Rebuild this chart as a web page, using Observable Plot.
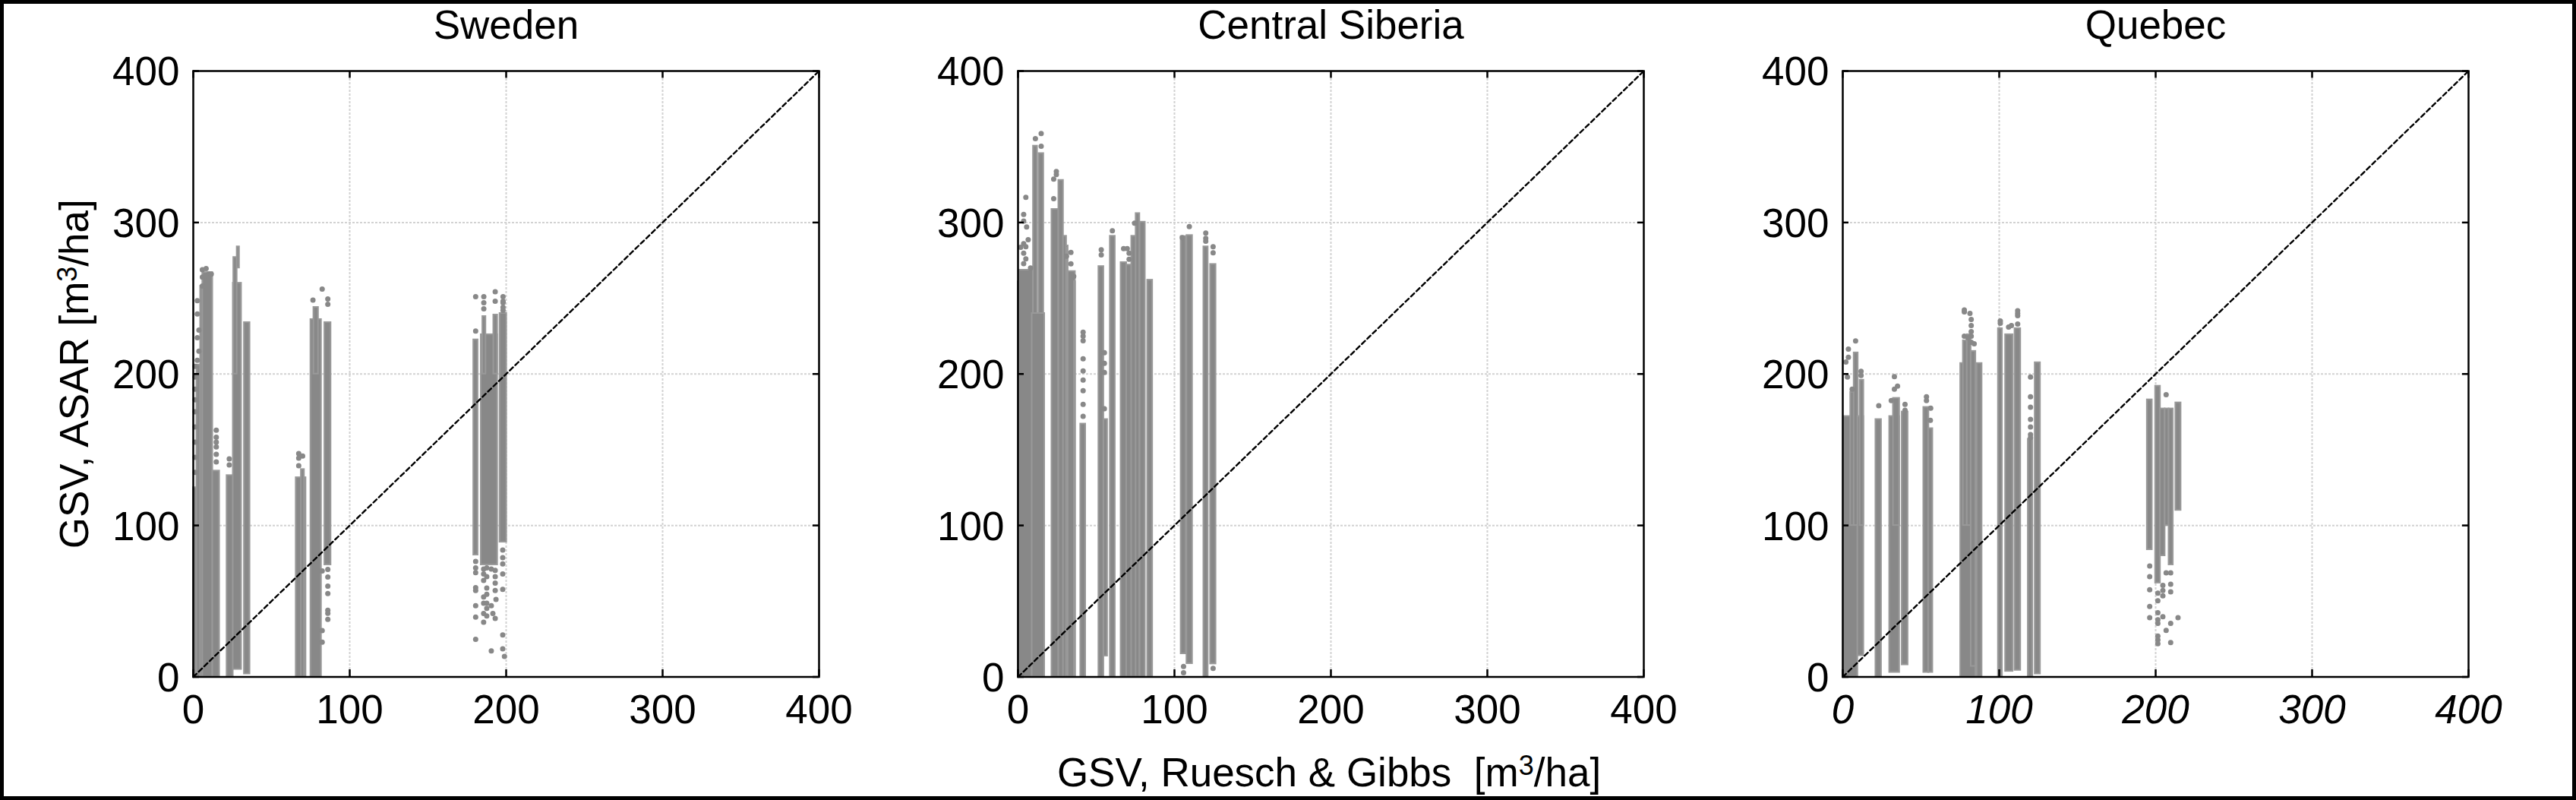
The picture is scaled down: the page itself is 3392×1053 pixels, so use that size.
<!DOCTYPE html>
<html><head><meta charset="utf-8">
<script src="https://cdn.jsdelivr.net/npm/d3@7"></script>
<script src="https://cdn.jsdelivr.net/npm/@observablehq/plot@0.6"></script>
<style>
html,body{margin:0;padding:0;background:#fff}
svg{display:block;outline:5px solid #000;outline-offset:-5px;font-family:"Liberation Sans",Arial,sans-serif}
</style></head><body><div id="chart"></div>
<script>
const panels = ["Sweden", "Central Siberia", "Quebec"];
const tickValues = [0, 100, 200, 300, 400];
const gridValues = [100, 200, 300];
const diagonal = [0, 400];
const xTitle = "GSV, Ruesch & Gibbs  [m3/ha]";
const yTitle = "GSV, ASAR [m3/ha]";

// Sweden: vertical clusters of points (x1, x2, low, high)
const swedenX1 = [0, 2.2, 4.6, 6, 12.4, 21.5, 25.5, 25.8, 28, 32.6, 65.7, 69, 75.1, 77, 84, 184, 179.2, 185, 192, 196];
const swedenX2 = [2.2, 5, 6, 12.4, 16.8, 25.5, 30.8, 28, 29.5, 36.2, 72, 71, 81.9, 80, 88, 194.5, 182, 187, 194.5, 200.3];
const swedenLow = [0, 0, 0, 0, 0, 0, 5, 200, 270, 2, 0, 0, 0, 200, 74, 74, 80.5, 200, 200, 89];
const swedenHigh = [125, 206, 258, 267, 136, 133, 260, 277, 284, 234, 131.6, 137, 236, 244, 234, 226, 222.6, 238, 239, 240];
const swedenOutX = [1.2,1.2,1.2,1.2,1.2,1.2,1.2,1.2,1.2,2.6,2.6,3.6,2.6,3.6,2.6,5.8,5.8,5.8,8.2,8.2,10,11.5,14.7,14.7,14.7,14.7,14.7,14.7,23,23,67.4,67.4,69.9,67.4,86,86,82.4,76.5,86,86,86,86,86,86,82.4,82.4,86,82.4,180.5,180.5,180.5,180.5,180.5,180.5,180.5,180.5,180.5,180.5,185.6,185.6,185.6,187.6,187.6,190.5,193,193,193,193,187.6,187.6,185.6,185.6,187.6,193.5,190.5,187.6,185.6,187.6,185.6,191.5,193,197.8,197.8,197.8,198.9,190.5,197.8,197.8,197.8,197.8,193,193,185.7,185.7,185.7,198,198,198,198,198];
const swedenOutY = [135,145,155,165,175,183,190,198,205,248.4,239.6,229,224,215,209,268.9,264,258,269.6,265,266,266,162.9,158.2,155,151.9,147,142,144,140,147.5,144.4,145.8,139.4,249.5,246,256,248.8,44,42,55,66,71,60,30.6,22.9,38,70,251,228.4,76.3,68.8,58.9,57,47,39.5,24.8,72,71.2,67.9,63.7,72,66.2,71.2,70.4,66.2,62,57,58.7,54.5,52.8,48.6,48.6,51.2,47,45.3,41.9,40.3,36.1,41.9,38.6,67.9,57.8,27.7,13.5,17.2,74.6,78.7,83.8,18.5,254.3,248,251,247,243,251,247,244,248,242];

// Central Siberia
const siberiaX1 = [0, 0.8, 9.8, 13.3, 9, 21.6, 26, 29, 31, 32, 36, 40, 51.6, 54.8, 58.9, 65.8, 69.4, 72.6, 75.4, 77.8, 78, 82.8, 104.2, 107.9, 118.7, 123];
const siberiaX2 = [0.8, 9.8, 12.4, 16.4, 17, 26, 29, 31, 32, 36.6, 36.7, 43.2, 54.8, 57.2, 62.1, 69.4, 72.6, 75.8, 77.8, 78.2, 81.3, 86, 107.4, 111.5, 121.5, 126.5];
const siberiaLow = [0, 0, 0, 0, 0, 0, 0, 0, 0, 0, 0, 0, 0, 13.8, 0, 0, 0, 0, 0, 0, 0, 0, 15.3, 8.8, 0, 8.6];
const siberiaHigh = [261, 268.6, 350.5, 345.6, 240, 308.7, 327.9, 291, 284.6, 267.7, 261, 167, 271, 170, 291, 273.6, 272, 291, 306, 280, 300.3, 262, 290.8, 291.5, 284, 272.4];
const siberiaOutX = [5,3.6,3.6,5.5,6.5,5,3.6,1.7,3.6,5,3.6,8,11.1,14.8,14.8,24.5,24.5,22.8,22.8,33.8,33.8,35.6,31,41.6,41.6,41.6,41.6,41.6,41.6,41.6,41.6,41.6,53.2,53.2,55.2,55.2,55.2,55.2,60.3,67.5,69.8,71,71,74.5,105,109.5,120,120,120,124.7,124.7,124.7,105.8,105.8];
const siberiaOutY = [316.6,305.3,301,297,288.6,284,286,283.6,279.7,276,272.8,270,355.4,358.8,350.4,333.7,331.6,328.7,315.7,280.2,272.7,264.5,277.7,227.6,225,222,210,202,196,189,180,172,282,278.6,214,207,201,177,294.5,282.8,282.8,279.7,275.7,299.5,290,297.3,293,289.5,287.7,284,280,5.6,6.9,2.8];

// Quebec
const quebecX1 = [0.4, 5, 7.2, 9.6, 11, 21.1, 29.9, 32.3, 37.9, 51.7, 54.8, 75.3, 77, 79.5, 82, 85.8, 99.4, 104, 110, 118.5, 122.9, 194.6, 199.9, 203, 206, 208.5, 212.8];
const quebecX2 = [9.6, 7.2, 9.8, 13.4, 13.4, 24.7, 36.3, 36.3, 41.7, 55, 57.5, 85, 79.5, 82, 85, 89, 102, 108.8, 113.7, 121.4, 126.3, 197.8, 203, 206, 208.5, 211.2, 216.2];
const quebecLow = [0, 100, 100, 14, 100, 0, 3, 100, 8, 3, 3, 0, 100, 100, 7, 0, 0, 3.7, 4.4, 0, 2, 84, 62, 80, 100, 74, 110];
const quebecHigh = [172, 188, 214, 172, 196, 170, 172, 184, 175, 178, 164, 207, 222, 226, 215, 207, 230, 226, 230, 157, 207.5, 183, 192, 177, 177, 177, 181];
const quebecOutX = [8.2,3.6,3.6,2,11.7,11.7,3,6,23,33,33,35,31,39.8,39.8,53.5,53.5,56.2,56,77.7,77.7,77.7,81.3,82.1,82.1,82.1,82.1,82.1,80,84,100.7,100.7,106,107.8,111.8,111.8,111.8,111.8,120,120,120,120,120,120,120,196.2,196.2,196.2,196.2,196.2,201.4,201.4,201.4,204.6,204.6,204.6,204.6,201.4,201.4,201.4,206.7,206.7,206.7,209.6,209.6,209.6,209.6,209.6,214.3,201.4,201.4];
const quebecOutY = [221.8,216.4,211,207.9,201.7,199,198,190,179,198.3,190,192,182.5,180,176,185,182.5,177.4,169.4,241,242.3,225,240,236,232,228,225,221,224,220,235,233.5,231,232,241.8,240,238.5,233,198,185,178,170,165,160,158,73.2,66.2,57.5,46.5,39.1,42.4,37.8,35.3,39.8,60.4,57,53.6,26.9,24.4,21.9,186.3,68.7,30.7,68.7,61.2,56.2,35.3,22.7,39.1,50.3,55.3];

const bandRows = (panel, x1, x2, lo, hi) => x1.map((d, i) => ({panel, x1: d, x2: x2[i], lo: lo[i], hi: hi[i]}));
const dotRows = (panel, xs, ys) => xs.map((d, i) => ({panel, x: d, y: ys[i]}));
const bands = [
  ...bandRows(panels[0], swedenX1, swedenX2, swedenLow, swedenHigh),
  ...bandRows(panels[1], siberiaX1, siberiaX2, siberiaLow, siberiaHigh),
  ...bandRows(panels[2], quebecX1, quebecX2, quebecLow, quebecHigh)
];
const dots = [
  ...dotRows(panels[0], swedenOutX, swedenOutY),
  ...dotRows(panels[1], siberiaOutX, siberiaOutY),
  ...dotRows(panels[2], quebecOutX, quebecOutY)
];
const gray = "#888888";
const fs = 53;
const fsAttr = {fontSize: fs, fill: "#000", fontFamily: "Liberation Sans, Arial, sans-serif", lineAnchor: "middle"};

const svg = Plot.plot({
  width: 3392, height: 1053,
  marginLeft: 253.7, marginRight: 141, marginTop: 93, marginBottom: 162.5,
  fx: {domain: panels, axis: null, paddingInner: 0.2412, paddingOuter: 0, label: null},
  x: {domain: [0, 400], axis: null},
  y: {domain: [0, 400], axis: null},
  marks: [
    Plot.ruleX(gridValues, {x: d => d, stroke: "#d2d2d2", strokeWidth: 2, strokeDasharray: "3,2"}),
    Plot.ruleY(gridValues, {y: d => d, stroke: "#d2d2d2", strokeWidth: 2, strokeDasharray: "3,2"}),
    Plot.rect(bands, {fx: "panel", x1: "x1", x2: "x2", y1: "lo", y2: "hi", fill: gray, stroke: "#999", strokeWidth: 2}),
    Plot.dot(dots, {fx: "panel", x: "x", y: "y", r: 3.5, fill: gray}),
    Plot.line(diagonal, {x: d => d, y: d => d, stroke: "#000", strokeWidth: 2.4, strokeDasharray: "6,4"}),
    Plot.tickX(tickValues, {x: d => d, stroke: "#000", strokeWidth: 2.5, insetTop: 788}),
    Plot.tickX(tickValues, {x: d => d, stroke: "#000", strokeWidth: 2.5, insetBottom: 788}),
    Plot.tickY(tickValues, {y: d => d, stroke: "#000", strokeWidth: 2.5, insetRight: 816}),
    Plot.tickY(tickValues, {y: d => d, stroke: "#000", strokeWidth: 2.5, insetLeft: 816}),
    Plot.frame({stroke: "#000", strokeWidth: 2.5}),
    Plot.text(tickValues, {y: d => d, text: d => String(d), frameAnchor: "left", textAnchor: "end", dx: -18, dy: 2, ...fsAttr}),
    Plot.text(tickValues.flatMap(v => panels.slice(0, 2).map(p => ({v, p}))), {fx: "p", x: "v", text: d => String(d.v), frameAnchor: "bottom", dy: 44.5, ...fsAttr}),
    Plot.text(tickValues.map(v => ({v, p: panels[2]})), {fx: "p", x: "v", text: d => String(d.v), frameAnchor: "bottom", dy: 44.5, fontStyle: "italic", ...fsAttr}),
    Plot.text(panels, {fx: d => d, text: d => d, frameAnchor: "top", dy: -59.6, ...fsAttr}),
    Plot.text([xTitle], {fx: () => panels[1], text: d => d, frameAnchor: "bottom", dx: -2.5, dy: 127, ...fsAttr}),
    Plot.text([yTitle], {fx: () => panels[0], text: d => d, frameAnchor: "left", textAnchor: "middle", rotate: -90, dx: -155, ...fsAttr})
  ]
});
document.getElementById("chart").append(svg);

// Raise the 3 of m3 as a superscript, keeping it real text.
svg.querySelectorAll("text").forEach(t => {
  const s = t.textContent;
  if (!s.includes("[m3/ha]")) return;
  const i = s.indexOf("m3") + 1;
  t.textContent = "";
  const add = (str, attrs) => {
    const sp = document.createElementNS("http://www.w3.org/2000/svg", "tspan");
    for (const k in attrs) sp.setAttribute(k, attrs[k]);
    sp.textContent = str;
    t.append(sp);
  };
  add(s.slice(0, i), {});
  add("3", {dy: "-0.42em", "font-size": "0.68em"});
  add(s.slice(i + 1), {dy: "0.286em"});
});
</script></body></html>
